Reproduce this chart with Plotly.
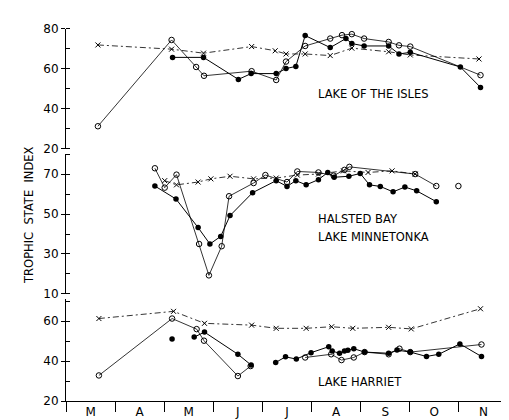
import plotly.graph_objects as go

# month axis: 3 = 1 March ... 12 = 1 December
month_ticks = [3.5, 4.5, 5.5, 6.5, 7.5, 8.5, 9.5, 10.5, 11.5]
month_labels = ["M", "A", "M", "J", "J", "A", "S", "O", "N"]
month_bounds = [3, 4, 5, 6, 7, 8, 9, 10, 11, 12]

# Lake of the Isles
isles_open_x = [3.65, 5.15, 5.65, 5.81, 6.78, 7.28, 7.48, 7.87, 8.38, 8.62, 8.82, 9.07, 9.57, 9.78, 10.01, 11.44]
isles_open_y = [31.3, 74.4, 60.9, 56.5, 58.8, 54.4, 63.6, 71.4, 75.1, 76.8, 77.3, 75.1, 73.4, 71.7, 71.1, 56.8]
isles_fill_x = [5.17, 5.80, 6.51, 6.77, 7.28, 7.48, 7.68, 7.87, 8.38, 8.70, 8.82, 9.07, 9.57, 9.78, 10.01, 11.03, 11.44]
isles_fill_y = [65.7, 65.7, 54.7, 57.6, 57.6, 60.1, 61.2, 76.6, 70.6, 75.1, 72.6, 71.4, 71.4, 67.4, 68.2, 60.9, 50.7]
isles_cross_x = [3.65, 5.15, 5.80, 6.78, 7.26, 7.48, 7.87, 8.38, 8.82, 9.57, 10.01, 11.41]
isles_cross_y = [71.9, 69.8, 67.8, 71.1, 69.0, 67.4, 67.4, 66.6, 70.3, 68.5, 66.9, 64.9]

# Halsted Bay, Lake Minnetonka
halsted_open_x = [4.81, 5.01, 5.25, 5.71, 5.91, 6.17, 6.32, 6.82, 7.06, 7.50, 7.71, 8.14, 8.45, 8.67, 8.77, 10.11, 10.54, None, 10.99]
halsted_open_y = [72.9, 63.2, 69.7, 35.0, 19.3, 33.9, 58.9, 65.5, 69.5, 66.0, 71.3, 70.8, 69.2, 72.1, 73.6, 70.0, 64.0, None, 64.0]
halsted_fill_x = [4.81, 5.24, 5.69, 5.93, 6.15, 6.34, 6.80, 7.28, 7.50, 7.68, 7.89, 8.14, 8.33, 8.46, 8.76, 8.99, 9.18, 9.40, 9.66, 9.90, 10.14, 10.54]
halsted_fill_y = [64.0, 57.5, 43.2, 35.0, 38.8, 49.2, 60.7, 66.7, 63.8, 66.7, 64.6, 67.2, 70.8, 68.4, 68.9, 70.3, 64.6, 63.8, 61.1, 63.5, 61.6, 56.2]
halsted_cross_x = [5.01, 5.25, 5.69, 5.95, 6.34, 6.82, 7.28, 7.71, 8.14, 8.65, 9.15, 9.64, 10.11]
halsted_cross_y = [66.7, 64.6, 66.0, 67.6, 68.9, 67.6, 68.0, 69.5, 70.0, 71.6, 70.8, 71.6, 70.0]

# Lake Harriet
harriet_open_x = [3.67, 5.16, 5.66, 5.81, 6.50, 6.76, None, 7.87, 8.40, 8.61, 8.86, 9.08, 9.57, 9.79, 10.01, 11.46]
harriet_open_y = [32.8, 61.3, 56.0, 50.2, 32.5, 37.5, None, 41.8, 43.4, 40.5, 41.8, 44.5, 43.4, 46.2, 44.5, 48.3]
harriet_fill_x = [5.16, None, 5.61, 5.82, 6.50, 6.77, None, 7.27, 7.47, 7.69, 7.99, 8.35, 8.42, 8.57, 8.67, 8.74, 8.86, 9.08, 9.57, 9.74, 10.01, 10.34, 10.59, 11.02, 11.46]
harriet_fill_y = [51.1, None, 52.0, 54.5, 43.4, 38.0, None, 39.3, 42.1, 41.0, 44.2, 47.2, 45.0, 43.9, 45.0, 45.4, 46.2, 44.5, 43.9, 45.5, 44.5, 42.3, 43.4, 48.6, 42.3]
harriet_cross_x = [3.67, 5.19, 5.82, 6.78, 7.28, 7.89, 8.41, 8.84, 9.57, 10.03, 11.44]
harriet_cross_y = [61.3, 64.9, 58.9, 58.0, 56.4, 56.4, 57.2, 56.4, 56.9, 56.1, 66.2]

panels = [
    ("y", isles_open_x, isles_open_y, isles_fill_x, isles_fill_y, isles_cross_x, isles_cross_y),
    ("y2", halsted_open_x, halsted_open_y, halsted_fill_x, halsted_fill_y, halsted_cross_x, halsted_cross_y),
    ("y3", harriet_open_x, harriet_open_y, harriet_fill_x, harriet_fill_y, harriet_cross_x, harriet_cross_y),
]

fig = go.Figure()
for yax, ox, oy, fx, fy, cx, cy in panels:
    fig.add_trace(go.Scatter(x=cx, y=cy, xaxis="x", yaxis=yax, mode="lines+markers",
                             line=dict(color="black", width=0.8, dash="6px,3px,2px,3px"),
                             marker=dict(symbol="x-thin", size=5, line=dict(color="black", width=1)),
                             connectgaps=False, showlegend=False))
    fig.add_trace(go.Scatter(x=ox, y=oy, xaxis="x", yaxis=yax, mode="lines+markers",
                             line=dict(color="black", width=0.8),
                             marker=dict(symbol="circle-open", size=5.5, color="black", line=dict(width=1)),
                             connectgaps=False, showlegend=False))
    fig.add_trace(go.Scatter(x=fx, y=fy, xaxis="x", yaxis=yax, mode="lines+markers",
                             line=dict(color="black", width=1),
                             marker=dict(symbol="circle", size=5.5, color="black"),
                             connectgaps=False, showlegend=False))

font = dict(family="DejaVu Sans", size=11, color="black")
tickfont = dict(family="DejaVu Sans", size=12, color="black")
title_font = dict(family="DejaVu Sans", size=11.5, color="black")
yax_common = dict(showline=True, linecolor="black", linewidth=1, ticks="outside", ticklen=4,
                  tickcolor="black", showgrid=False, zeroline=False, tickfont=tickfont, dtick=20,
                  minor=dict(ticks="inside", ticklen=4, dtick=10, tickcolor="black"))

fig.update_layout(
    width=509, height=420,
    margin=dict(l=58, r=9, t=20, b=17),
    paper_bgcolor="white", plot_bgcolor="white",
    font=font,
    xaxis=dict(anchor="y3", range=[3, 12], showline=True, linecolor="black", linewidth=1,
               tickmode="array", tickvals=month_ticks, ticktext=month_labels, ticks="",
               tickfont=tickfont, showgrid=False, zeroline=False,
               minor=dict(tickmode="array", tickvals=month_bounds, ticks="outside",
                          ticklen=10, tickcolor="black", tickwidth=1)),
    yaxis=dict(domain=[0.676, 0.998], range=[20, 80], tick0=20, **yax_common),
    yaxis2=dict(domain=[0.287, 0.662], range=[10, 80], tick0=10, **yax_common),
    yaxis3=dict(domain=[0.0, 0.273], range=[20, 71], tick0=20, **yax_common),
    annotations=[
        dict(text="LAKE OF THE ISLES", xref="paper", yref="paper", x=0.565, y=0.822,
             xanchor="left", yanchor="middle", showarrow=False, font=title_font),
        dict(text="HALSTED BAY", xref="paper", yref="paper", x=0.565, y=0.488,
             xanchor="left", yanchor="middle", showarrow=False, font=title_font),
        dict(text="LAKE MINNETONKA", xref="paper", yref="paper", x=0.565, y=0.441,
             xanchor="left", yanchor="middle", showarrow=False, font=title_font),
        dict(text="LAKE HARRIET", xref="paper", yref="paper", x=0.565, y=0.052,
             xanchor="left", yanchor="middle", showarrow=False, font=title_font),
        dict(text="TROPHIC  STATE  INDEX", xref="paper", yref="paper", x=-0.085, y=0.5,
             xanchor="center", yanchor="middle", textangle=-90, showarrow=False,
             font=title_font),
    ],
)

fig.write_html("out.html")
